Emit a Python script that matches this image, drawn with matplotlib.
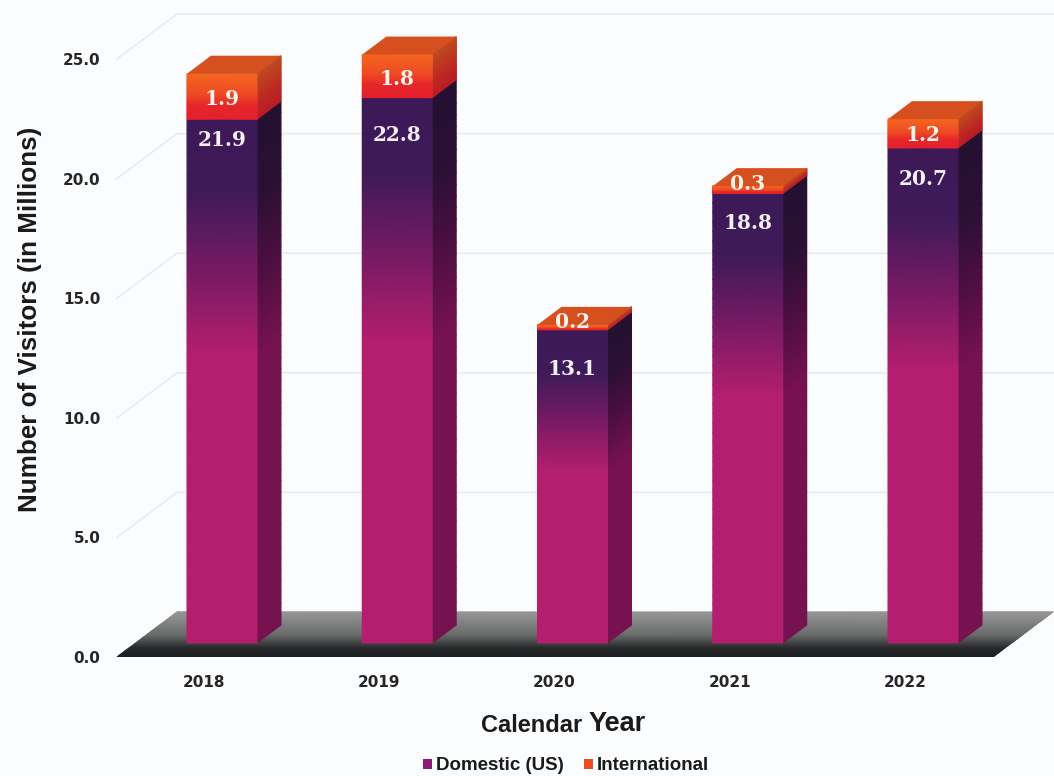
import numpy as np
import matplotlib
matplotlib.use("Agg")
import matplotlib.pyplot as plt
from matplotlib.colors import LinearSegmentedColormap
from matplotlib.patches import Polygon, Patch

years = ["2018", "2019", "2020", "2021", "2022"]
domestic = [21.9, 22.8, 13.1, 18.8, 20.7]
international = [1.9, 1.8, 0.2, 0.3, 1.2]
y_ticks = [0, 5, 10, 15, 20, 25]

# label placement, in pixels
domestic_drop = [21, 37, 39, 30, 31]
international_rise = [-3, -3, 5, 6, -1]

BG = "#FAFCFE"
W, H = 1054, 776
PX_X, PX_Y = 175.25, 23.92
LEFT, BASE, X0 = 117, 657, 204


def px_x(p):
    return p / PX_X


def px_y(p):
    return p / PX_Y


BAR_W = px_x(70)
BAR_SHIFT = px_x(18)
DX, DY = px_x(24), px_y(18)
LIFT = px_y(14)
FLOOR_DX, FLOOR_DY = px_x(60), px_y(45)
X_MIN = -px_x(X0 - LEFT)
X_FRONT_MAX = px_x(993 - X0)

fig = plt.figure(figsize=(W / 100, H / 100), dpi=100, facecolor=BG)
ax = fig.add_axes([LEFT / W, (H - BASE) / H, (W - LEFT) / W, BASE / H], facecolor=BG)
ax.set_xlim(X_MIN, px_x(W - X0))
ax.set_ylim(0, px_y(BASE))

dom_front = LinearSegmentedColormap.from_list(
    "dom_front", [(0, "#B41E6E"), (0.55, "#B41E6E"), (0.72, "#741A63"), (0.86, "#3F1A58"), (1, "#3D1958")])
dom_side = LinearSegmentedColormap.from_list(
    "dom_side", [(0, "#76124F"), (0.55, "#76124F"), (0.72, "#4A0E40"), (0.86, "#2A1033"), (1, "#241030")])
intl_front = LinearSegmentedColormap.from_list(
    "intl_front", [(0, "#E3202C"), (0.3, "#E6262A"), (0.55, "#EE4A24"), (1, "#F4661F")])
intl_side = LinearSegmentedColormap.from_list(
    "intl_side", [(0, "#B81C24"), (0.4, "#BC2A22"), (1, "#BE4A20")])
floor_map = LinearSegmentedColormap.from_list(
    "floor", [(0, "#1E2122"), (0.2, "#262829"), (0.5, "#6A6B6B"), (1, "#969696")])


def shaded_quad(x0, x1, y0, y1, cmap, shear=(0.0, 0.0), z=3):
    """Fill a quad whose colour runs bottom to top; shear offsets its right edge."""
    t = np.linspace(0, 1, 48)
    ys = y0 + (y1 - y0) * t
    X = np.column_stack([np.full_like(t, x0), np.full_like(t, x1)])
    Y = np.column_stack([ys, ys + shear[1]])
    C = np.column_stack([t, t])
    ax.pcolormesh(X, Y, C, cmap=cmap, shading="gouraud", vmin=0, vmax=1, zorder=z)


# back wall and left wall gridlines
for v in y_ticks:
    ax.plot([X_MIN, X_MIN + FLOOR_DX, px_x(W - X0)],
            [v, v + FLOOR_DY, v + FLOOR_DY],
            color="#E8EAEB", lw=1.1, zorder=1, clip_on=False)

# floor slab, fading from grey at the back to near black at the front
t = np.linspace(0, 1, 48)
fx0 = X_MIN + FLOOR_DX * t
fx1 = X_FRONT_MAX + FLOOR_DX * t
fy = FLOOR_DY * t
ax.pcolormesh(np.column_stack([fx0, fx1]), np.column_stack([fy, fy]),
              np.column_stack([t, t]), cmap=floor_map, shading="gouraud",
              vmin=0, vmax=1, zorder=2)

# stacked 3D columns
for i, (d, n) in enumerate(zip(domestic, international)):
    x0 = i + BAR_SHIFT - BAR_W / 2
    x1 = x0 + BAR_W
    total = d + n
    b = LIFT
    shaded_quad(x1, x1 + DX, b, b + d, dom_side, shear=(0, DY))
    shaded_quad(x0, x1, b, b + d, dom_front)
    shaded_quad(x1, x1 + DX, b + d, b + total, intl_side, shear=(0, DY))
    shaded_quad(x0, x1, b + d, b + total, intl_front)
    ax.add_patch(Polygon(
        [(x0, b + total), (x1, b + total), (x1 + DX, b + total + DY), (x0 + DX, b + total + DY)],
        closed=True, facecolor="#D6501F", edgecolor="none", zorder=4))
    cx = (x0 + x1) / 2
    ax.text(cx, b + d - px_y(domestic_drop[i]), f"{d:.1f}", ha="center", va="center",
            color="#F4F1F6", fontsize=14.5, fontweight="bold", family="DejaVu Serif", zorder=6)
    ax.text(cx, b + d + n / 2 + px_y(international_rise[i]), f"{n:.1f}", ha="center", va="center",
            color="#FBF3EC", fontsize=14.5, fontweight="bold", family="DejaVu Serif", zorder=6)

# axes furniture
for s in ax.spines.values():
    s.set_visible(False)
ax.set_xticks(range(len(years)), years)
ax.set_yticks(y_ticks, [f"{v:.1f}" for v in y_ticks])
ax.tick_params(length=0)
ax.tick_params(axis="x", pad=13, labelsize=11, labelcolor="#262626")
ax.tick_params(axis="y", pad=12, labelsize=11, labelcolor="#262626")
for lab in ax.get_xticklabels() + ax.get_yticklabels():
    lab.set_fontweight("bold")
    lab.set_family("DejaVu Sans")

# the axis title sets its second word larger than the first
fig.text(582 / W, 1 - 725 / H, "Calendar", ha="right", va="center",
         fontsize=17, fontweight="bold", family="Liberation Sans", color="#1A1A1A")
fig.text(589 / W, 1 - 724 / H, "Year", ha="left", va="center",
         fontsize=19.5, fontweight="bold", family="Liberation Sans", color="#1A1A1A")
fig.text(30 / W, 1 - 319 / H, "Number of Visitors (in Millions)", rotation=90, ha="center", va="center",
         fontsize=18.7, fontweight="bold", family="Liberation Sans", color="#1A1A1A")

handles = [Patch(facecolor="#8A1C78", label="Domestic (US)"),
           Patch(facecolor="#EE4A24", label="International")]
fig.legend(handles=handles, loc="center", bbox_to_anchor=(566 / W, 1 - 766 / H), ncol=2,
           frameon=False, handlelength=0.5, handleheight=0.5, handletextpad=0.2,
           columnspacing=1.1, prop={"family": "Liberation Sans", "weight": "bold", "size": 13.5},
           labelcolor="#1A1A1A")

fig.savefig("out.png", dpi=100, facecolor=BG)
